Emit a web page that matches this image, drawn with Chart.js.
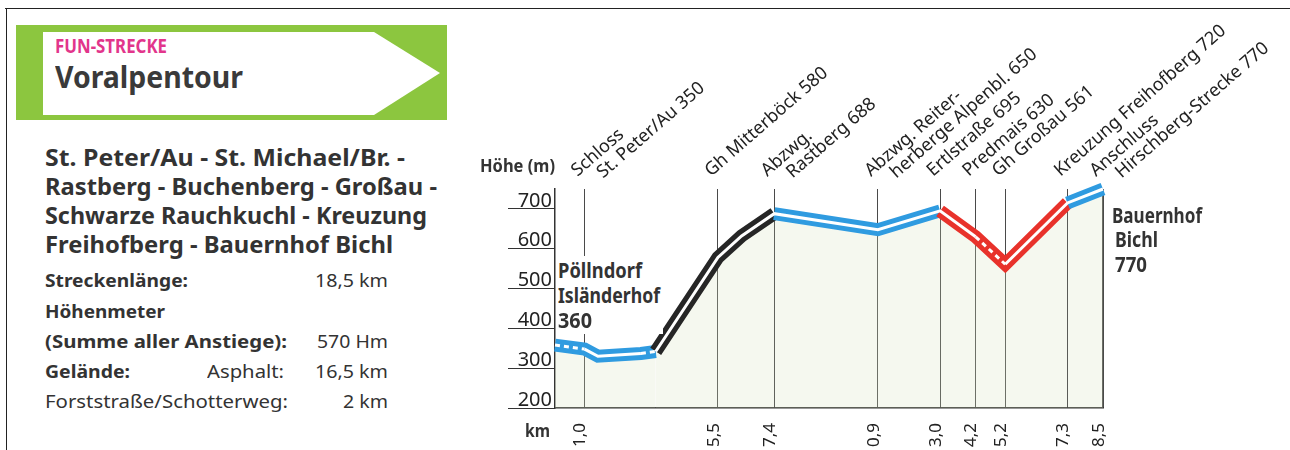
<!DOCTYPE html>
<html lang="de">
<head>
<meta charset="utf-8">
<title>Voralpentour</title>
<script src="https://cdn.jsdelivr.net/npm/chart.js@4.4.1/dist/chart.umd.min.js"></script>
<style>
  html, body { margin: 0; padding: 0; background: #fff; }
  body { width: 1290px; height: 450px; position: relative; overflow: hidden;
         font-family: 'Noto Sans', sans-serif; color: #333; }
  .frame-top { position: absolute; left: 5px; top: 8px; width: 1285px; border-top: 1.5px solid #222; }
  .frame-left { position: absolute; left: 6px; top: 8px; height: 442px; border-left: 1.5px solid #222; }
  .sign { position: absolute; left: 16px; top: 25px; width: 431px; height: 95px; background: #8cc63f; }
  .sign-arrow { position: absolute; left: 27px; top: 7px; width: 397px; height: 83px; background: #fff;
                clip-path: polygon(0 0, 331px 0, 397px 41px, 331px 83px, 0 83px); }
  .t { position: absolute; white-space: nowrap; line-height: 1; transform-origin: 0 0; z-index: 3; }
  .b { font-weight: 700; }
  .pink { color: #e2358b; }
  .mask { position: absolute; left: 557px; top: 256px; width: 106px; height: 78px; background: #fff; z-index: 2; }
  #profile { position: absolute; left: 460px; top: 0; z-index: 1; }
</style>
</head>
<body>
<div class="frame-top"></div>
<div class="frame-left"></div>

<div class="sign"><div class="sign-arrow"></div></div>
<div class="t b pink" data-x="55" data-b="53" data-w="112" style="font-size:19px">FUN-STRECKE</div>
<div class="t b" data-x="55" data-b="88" data-w="188" style="font-size:31px;color:#3a3a3a">Voralpentour</div>

<div class="t b" data-x="45" data-b="166" data-w="360" style="font-size:23px">St. Peter/Au - St. Michael/Br. -</div>
<div class="t b" data-x="45" data-b="195" data-w="392" style="font-size:23px">Rastberg - Buchenberg - Großau -</div>
<div class="t b" data-x="45" data-b="224" data-w="382" style="font-size:23px">Schwarze Rauchkuchl - Kreuzung</div>
<div class="t b" data-x="45" data-b="253" data-w="348" style="font-size:23px">Freihofberg - Bauernhof Bichl</div>

<div class="t b" data-x="45" data-b="287" data-w="143" style="font-size:18px">Streckenlänge:</div>
<div class="t" data-x="315" data-b="287" data-w="73" style="font-size:18px">18,5 km</div>
<div class="t b" data-x="45" data-b="318" data-w="120" style="font-size:18px">Höhenmeter</div>
<div class="t b" data-x="45" data-b="348" data-w="242" style="font-size:18px">(Summe aller Anstiege):</div>
<div class="t" data-x="317" data-b="348" data-w="71" style="font-size:18px">570 Hm</div>
<div class="t b" data-x="45" data-b="378" data-w="85" style="font-size:18px">Gelände:</div>
<div class="t" data-x="207" data-b="378" data-w="77" style="font-size:18px">Asphalt:</div>
<div class="t" data-x="315" data-b="378" data-w="73" style="font-size:18px">16,5 km</div>
<div class="t" data-x="45" data-b="408" data-w="243" style="font-size:18px">Forststraße/Schotterweg:</div>
<div class="t" data-x="343" data-b="408" data-w="45" style="font-size:18px">2 km</div>

<div class="t b" data-x="480" data-b="172" data-w="75" style="font-size:17px">Höhe (m)</div>
<div class="t b" data-x="525" data-b="437" data-w="25" style="font-size:17px">km</div>

<div class="mask"></div>
<div class="t b" data-x="558" data-b="278" data-w="84" style="font-size:21px">Pöllndorf</div>
<div class="t b" data-x="558" data-b="303" data-w="102" style="font-size:21px">Isländerhof</div>
<div class="t b" data-x="558" data-b="328" data-w="34" style="font-size:21px">360</div>
<div class="t b" data-x="1112" data-b="223" data-w="90" style="font-size:21px">Bauernhof</div>
<div class="t b" data-x="1115" data-b="247" data-w="43" style="font-size:21px">Bichl</div>
<div class="t b" data-x="1115" data-b="272" data-w="32" style="font-size:21px">770</div>

<canvas id="profile" width="830" height="450"></canvas>

<script>
// height profile
const profileKm   = [0, 1.0, 1.45, 2.9, 3.4, 5.5, 6.3, 7.4, 10.9, 13.0, 14.2, 15.2, 17.3, 18.5];
const profileElev = [358, 348, 330, 337, 342, 578, 632, 688, 648, 695, 630, 561, 715, 750];

// one entry per stretch (point i -> point i+1)
const stretchLevel   = ['leicht', 'leicht', 'leicht', 'leicht', 'schwer', 'schwer', 'schwer',
                        'leicht', 'leicht', 'mittel', 'mittel', 'mittel', 'leicht'];
const stretchSurface = ['Schotter', 'Asphalt', 'Asphalt', 'Schotter', 'Asphalt', 'Asphalt', 'Asphalt',
                        'Asphalt', 'Asphalt', 'Asphalt', 'Schotter', 'Asphalt', 'Asphalt'];

// waypoints along the route
const kmMarks = [1.0, 5.5, 7.4, 10.9, 13.0, 14.2, 15.2, 17.3, 18.5];
const markNames = [
  ['Schloss', 'St. Peter/Au 350'],
  ['Gh Mitterböck 580'],
  ['Abzwg.', 'Rastberg 688'],
  ['Abzwg. Reiter-', 'herberge Alpenbl. 650'],
  ['Ertlstraße 695'],
  ['Predmais 630'],
  ['Gh Großau 561'],
  ['Kreuzung Freihofberg 720'],
  ['Anschluss', 'Hirschberg-Strecke 770']
];

const heightTicks = [200, 300, 400, 500, 600, 700];

const levelColor = { leicht: '#2f9be0', mittel: '#e8322b', schwer: '#262626' };

// place html texts by baseline and squeeze them to the measured width
document.querySelectorAll('.t').forEach(el => {
  const mark = document.createElement('span');
  mark.style.cssText = 'display:inline-block;width:0;height:0;vertical-align:baseline';
  el.appendChild(mark);
  el.style.left = el.dataset.x + 'px';
  el.style.top = (el.dataset.b - mark.offsetTop) + 'px';
  el.removeChild(mark);
  const w = el.getBoundingClientRect().width;
  el.style.transform = `scaleX(${el.dataset.w / w})`;
});

const points = profileKm.map((km, i) => ({ x: km, y: profileElev[i] }));

// rotated waypoint names above the vertical lines
const waypointLabels = {
  id: 'waypointLabels',
  afterDraw(chart) {
    const { ctx, scales: { x, y } } = chart;
    ctx.save();
    ctx.font = '18px "Noto Sans"';
    ctx.fillStyle = '#222';
    ctx.textAlign = 'left';
    ctx.textBaseline = 'alphabetic';
    kmMarks.forEach((km, i) => {
      ctx.save();
      ctx.translate(x.getPixelForValue(km) - 7, y.top - 12);
      ctx.rotate(-41 * Math.PI / 180);
      markNames[i].forEach((line, j) => ctx.fillText(line, j * 18, j * 18));
      ctx.restore();
    });
    ctx.restore();
  }
};

new Chart(document.getElementById('profile'), {
  type: 'line',
  data: {
    datasets: [
      {
        // white centre stripe, dashed on gravel
        data: points,
        order: 0,
        borderColor: '#fff',
        borderWidth: 3,
        pointRadius: 0,
        fill: false,
        clip: false,
        segment: {
          borderDash: c => stretchSurface[c.p0DataIndex] === 'Schotter' ? [5, 4] : undefined
        }
      },
      {
        data: points,
        order: 1,
        borderWidth: 13,
        borderColor: levelColor.leicht,
        backgroundColor: 'rgba(215,228,190,0.25)',
        fill: 'start',
        pointRadius: 0,
        clip: false,
        segment: {
          borderColor: c => levelColor[stretchLevel[c.p0DataIndex]]
        }
      }
    ]
  },
  options: {
    responsive: false,
    animation: false,
    devicePixelRatio: 1,
    layout: { padding: { left: 0, right: 187, top: 189, bottom: 0 } },
    plugins: { legend: { display: false }, tooltip: { enabled: false } },
    elements: { line: { tension: 0, borderCapStyle: 'butt', borderJoinStyle: 'miter' } },
    scales: {
      x: {
        type: 'linear',
        min: 0,
        max: 18.5,
        afterBuildTicks: s => { s.ticks = kmMarks.map(v => ({ value: v })); },
        afterFit: s => { s.height = 42; },
        grid: {
          color: '#4a4a4a',
          lineWidth: c => c.index === kmMarks.length - 1 ? 2 : 1,
          drawTicks: false
        },
        border: { display: true, color: '#333', width: 1.5 },
        ticks: {
          autoSkip: false,
          minRotation: 90,
          maxRotation: 90,
          padding: 15,
          labelOffset: -4,
          color: '#222',
          font: { family: 'Noto Sans', size: 17 },
          callback: v => v.toFixed(1).replace('.', ',')
        }
      },
      y: {
        type: 'linear',
        min: 200,
        max: 750,
        afterBuildTicks: s => { s.ticks = heightTicks.map(v => ({ value: v })); },
        afterFit: s => { s.width = 95; },
        grid: { drawOnChartArea: false, drawTicks: true, tickLength: 47, color: '#333', lineWidth: 1 },
        border: { display: true, color: '#333', width: 1.5 },
        ticks: {
          padding: -44,
          labelOffset: -8,
          color: '#222',
          font: { family: 'Noto Sans', size: 20 }
        }
      }
    }
  },
  plugins: [waypointLabels]
});
</script>
</body>
</html>
